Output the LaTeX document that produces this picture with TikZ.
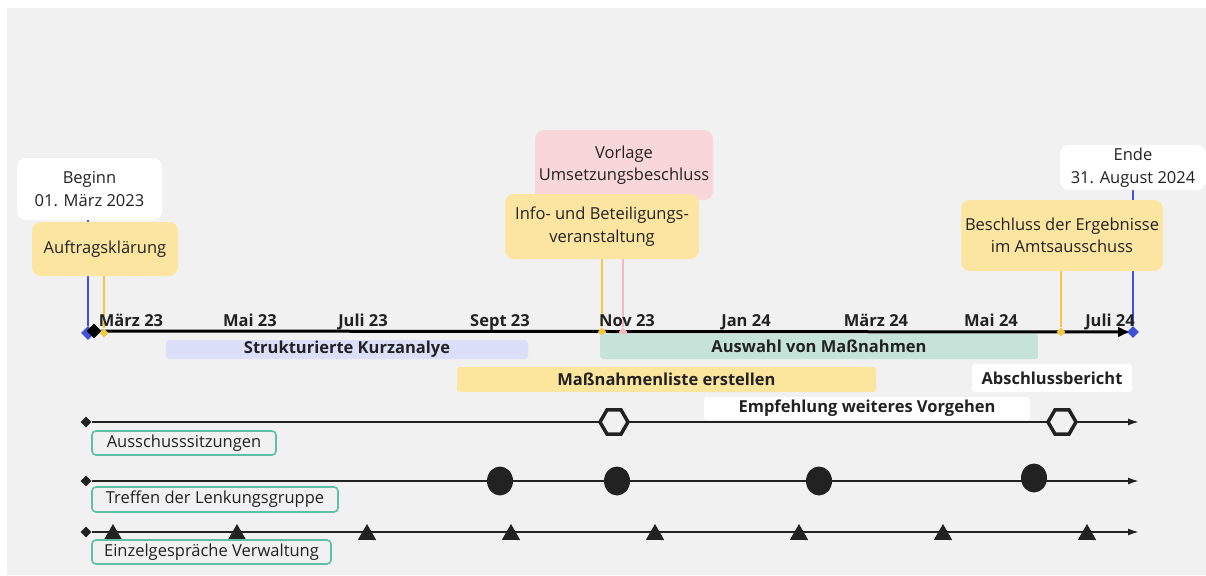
\documentclass[tikz,border=0pt]{standalone}
\usepackage{fontspec}
\setmainfont{Open Sans}
\usetikzlibrary{arrows.meta,shapes.geometric}

\definecolor{bggrey}{HTML}{F1F1F1}
\definecolor{inkgrey}{HTML}{222222}
\definecolor{cardyellow}{HTML}{FCE5A0}
\definecolor{cardpink}{HTML}{F8D6D9}
\definecolor{barblue}{HTML}{DCDFFA}
\definecolor{barteal}{HTML}{C6E3DA}
\definecolor{baryellow}{HTML}{FCE59D}
\definecolor{tealline}{HTML}{5DBFA6}
\definecolor{blueline}{HTML}{4050D8}
\definecolor{yellowline}{HTML}{F5C842}
\definecolor{pinkline}{HTML}{F4B9BE}

\pgfdeclarelayer{back}
\pgfsetlayers{back,main}

\begin{document}
\begin{tikzpicture}[x=1pt,y=-1pt,
  every node/.style={font=\fontsize{16.5}{22.5}\selectfont, text=inkgrey, inner sep=0pt},
  card/.style={fill=#1, rounded corners=9pt, align=center},
  bar/.style={fill=#1, rounded corners=3pt, font=\fontsize{16.5}{18}\selectfont\bfseries},
  tag/.style={draw=tealline, line width=1.6pt, rounded corners=4pt, minimum height=24pt},
  month/.style={anchor=base, font=\fontsize{16.5}{18}\selectfont\bfseries},
  stem/.style={line width=1.3pt, draw=#1},
  tick/.style={diamond, fill=#1, minimum size=9pt},
  axis/.style={line width=3pt, -{Latex[length=13pt,width=11pt]}},
  lane/.style={line width=1.8pt, draw=inkgrey, -{Latex[length=11pt,width=7pt]}},
  hexmark/.style={regular polygon, regular polygon sides=6, minimum size=28pt,
    draw=inkgrey, line width=3.5pt, fill=bggrey},
  dotmark/.style={ellipse, fill=inkgrey, minimum width=26pt, minimum height=29pt},
  trimark/.style={regular polygon, regular polygon sides=3, fill=inkgrey, minimum size=21pt},
]
\useasboundingbox (0,0) rectangle (1206,575);
\begin{pgfonlayer}{back}
  \fill[bggrey] (7,8) rectangle (1206,575);
\end{pgfonlayer}

% milestone cards
\node[card=white, minimum width=145pt, minimum height=62pt] (beginn) at (89.5,189) {Beginn\\01. März 2023};
\node[card=cardyellow, minimum width=146pt, minimum height=54pt] (auftrag) at (105,249) {Auftragsklärung};
\node[card=cardpink, minimum width=178pt, minimum height=70pt] (vorlage) at (624,165) {Vorlage\\Umsetzungsbeschluss};
\node[card=cardyellow, minimum width=194pt, minimum height=65pt] (info) at (602,226.5) {Info- und Beteiligungs-\\veranstaltung};
\node[card=white, minimum width=146pt, minimum height=45pt] (ende) at (1133,167.5) {Ende\\31. August 2024};
\node[card=cardyellow, minimum width=202pt, minimum height=71pt] (beschluss) at (1062,235.5) {Beschluss der Ergebnisse\\im Amtsausschuss};

% markers on the main axis
\node[tick=blueline, minimum size=14pt] (mbeginn) at (88,333) {};
\node[tick=black, minimum size=15pt] (maxis) at (94,331) {};
\coordinate (axend) at (1131,332);
\draw[axis] (maxis) -- (axend);
\node[tick=yellowline, minimum size=9pt] (mauftrag) at (104,333) {};
\node[tick=pinkline] (mvorlage) at (623,332) {};
\node[tick=yellowline, minimum size=9pt] (minfo) at (602,332) {};
\node[tick=yellowline, minimum size=9pt] (mbeschluss) at (1061,332) {};
\node[tick=blueline, minimum size=12pt] (mende) at (1133,332) {};

\begin{pgfonlayer}{back}
  \draw[stem=blueline] (beginn.south -| mbeginn) -- (mbeginn);
  \draw[stem=yellowline] (auftrag.south -| mauftrag) -- (mauftrag);
  \draw[stem=pinkline] (vorlage.south -| mvorlage) -- (mvorlage);
  \draw[stem=yellowline] (info.south -| minfo) -- (minfo);
  \draw[stem=blueline] (ende.south -| mende) -- (mende);
  \draw[stem=yellowline] (beschluss.south -| mbeschluss) -- (mbeschluss);
\end{pgfonlayer}

% months
\foreach \mx/\mname in {131/März 23, 250/Mai 23, 363/Juli 23, 500/Sept 23, 627/Nov 23,
  746/Jan 24, 876/März 24, 991/Mai 24, 1110/Juli 24}
  \node[month] at (\mx,326) {\mname};

% phases
\node[bar=barblue, minimum width=362pt, minimum height=19pt] (kurz) at (347,349.5) {Strukturierte Kurzanalye};
\node[bar=barteal, minimum width=438pt, minimum height=25pt] (auswahl) at (819,346.5) {Auswahl von Maßnahmen};
\node[bar=baryellow, minimum width=419pt, minimum height=25pt] (liste) at (666.5,379.5) {Maßnahmenliste erstellen};
\node[bar=white, minimum width=160pt, minimum height=28pt] (abschluss) at (1052,378) {Abschlussbericht};
\node[bar=white, minimum width=326pt, minimum height=23pt] (empfehlung) at (867,408.5) {Empfehlung weiteres Vorgehen};

% lane 1: Ausschusssitzungen
\node[tick=inkgrey, minimum size=11pt] (lane1s) at (86,422) {};
\coordinate (lane1e) at (1139,422);
\draw[lane] (lane1s) -- (lane1e);
\node[hexmark] (sitzung1) at (614,422) {};
\node[hexmark] (sitzung2) at (1062,422) {};
\node[tag, minimum width=184pt] (ausschuss) at (184,443) {Ausschusssitzungen};

% lane 2: Lenkungsgruppe
\node[tick=inkgrey, minimum size=11pt] (lane2s) at (86,481) {};
\coordinate (lane2e) at (1139,481);
\draw[lane] (lane2s) -- (lane2e);
\foreach \tx/\ty [count=\i] in {500/481, 617/481, 819/481, 1034/478}
  \node[dotmark] (treffen\i) at (\tx,\ty) {};
\node[tag, minimum width=246pt, minimum height=25pt] (lenkung) at (215,499.5) {Treffen der Lenkungsgruppe};

% lane 3: Einzelgespraeche
\node[tick=inkgrey, minimum size=11pt] (lane3s) at (86,532) {};
\coordinate (lane3e) at (1139,532);
\draw[lane] (lane3s) -- (lane3e);
\foreach \tx [count=\i] in {113,237,367,511,655,799,943,1087}
  \node[trimark] (gespraech\i) at (\tx,534.5) {};
\node[tag, minimum width=239pt] (verwaltung) at (211.5,552) {Einzelgespräche Verwaltung};
\end{tikzpicture}
\end{document}
